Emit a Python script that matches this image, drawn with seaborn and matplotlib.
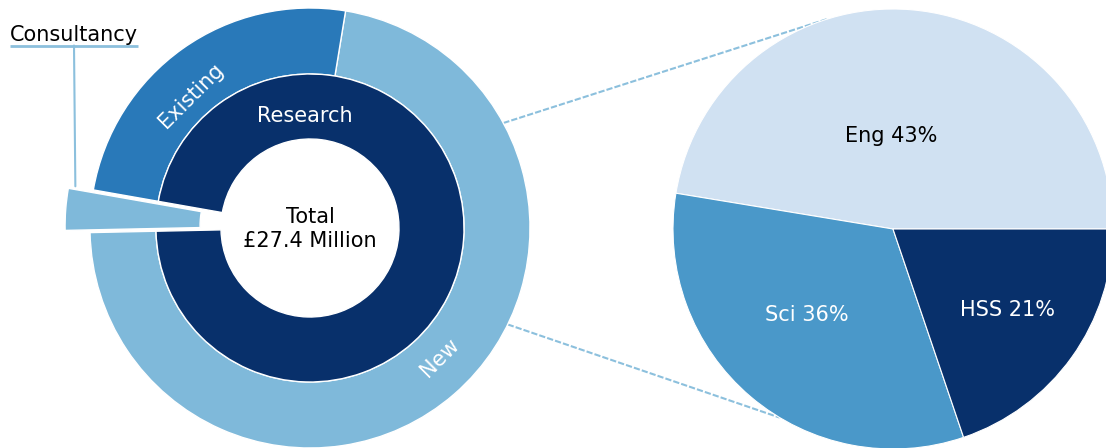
import numpy as np
import matplotlib
matplotlib.use("Agg")
import matplotlib.pyplot as plt
import seaborn as sns

# ---------------- data ----------------
main_labels = ["New", "Existing", "Consultancy"]
main_values = [19.75, 6.8, 0.85]        # £ million
inner_label = "Research"
total_label = "Total\n£27.4 Million"
sub_labels = ["Eng 43%", "Sci 36%", "HSS 21%"]
sub_values = [47.4, 32.8, 19.8]         # drawn shares of research

# ---------------- style ----------------
sns.set_theme(style="white")
plt.rcParams['font.family'] = ['DejaVu Sans']
blues = sns.color_palette("Blues", as_cmap=True)
c_new, c_exist, c_navy = blues(0.45), blues(0.72), blues(1.0)
c_line = blues(0.42)
sub_colors = [blues(0.2), blues(0.6), blues(1.0)]
sub_text_colors = ["black", "white", "white"]
FS = 15

fig = plt.figure(figsize=(11.06, 4.48), dpi=100)
ax = fig.add_axes([0, 0, 1, 1])

R, ring, hole = 220, 66, 89
cL, cR = (310, 220), (893, 219)
start = 181.2
research = main_values[0] + main_values[1]
consult = main_values[2]
wp = dict(edgecolor="white", linewidth=1)

# outer ring: New / Existing
outer, _ = ax.pie(main_values, radius=R, center=cL, startangle=start,
                  colors=[c_new, c_exist, c_new],
                  wedgeprops=dict(width=ring, **wp), frame=True)
outer[2].set_visible(False)
# inner ring: Research
inner, _ = ax.pie([research, consult], radius=R - ring, center=cL, startangle=start,
                  colors=[c_navy, c_navy],
                  wedgeprops=dict(width=R - ring - hole, **wp), frame=True)
inner[1].set_visible(False)
# exploded consultancy wedge spanning both rings
cons, _ = ax.pie([research, consult], radius=217, center=cL, startangle=start,
                 explode=[0, 28], colors=[c_navy, c_new],
                 wedgeprops=dict(width=217 - 82, **wp), frame=True)
cons[0].set_visible(False)

# right pie
sub, _ = ax.pie(sub_values, radius=R, center=cR, startangle=0, colors=sub_colors,
                wedgeprops=dict(edgecolor="white", linewidth=0.8), frame=True)

# ---------------- labels ----------------
def polar(c, ang, r):
    a = np.deg2rad(ang)
    return c[0] + r * np.cos(a), c[1] + r * np.sin(a)

x, y = polar(cL, 132, 178)
ax.text(x, y, main_labels[1], color="white", fontsize=FS, rotation=45,
        ha="center", va="center", rotation_mode="anchor")
x, y = polar(cL, -45, 184)
ax.text(x, y, main_labels[0], color="white", fontsize=FS, rotation=45,
        ha="center", va="center", rotation_mode="anchor")
ax.text(cL[0] - 5, cL[1] + 112, inner_label, color="white", fontsize=FS,
        ha="center", va="center")
ax.text(cL[0], cL[1] - 1, total_label, color="black", fontsize=FS,
        ha="center", va="center", linespacing=1.25)

# sub-pie labels
sub_pos = [(91.2, 93), (225, 121.6), (-35.2, 140.7)]
for lab, (ang, r), col in zip(sub_labels, sub_pos, sub_text_colors):
    x, y = polar(cR, ang, r)
    ax.text(x, y, lab, color=col, fontsize=FS, ha="center", va="center")

# consultancy annotation
w = cons[1]
px, py = polar(w.center, w.theta1, w.r)
ax.text(74, 407.5, main_labels[2], color="black", fontsize=FS, ha="center", va="baseline")
ax.plot([10, 138], [402.5, 402.5], color=c_line, lw=2, solid_capstyle="butt")
ax.plot([74, px + 7], [402.5, py + 2], color=c_line, lw=1.5)

# connection lines
for aL, aR in [(28.5, 107.5), (-26, 239)]:
    x1, y1 = polar(cL, aL, R)
    x2, y2 = polar(cR, aR, R)
    ax.plot([x1, x2], [y1, y2], color=c_line, lw=1.5, ls=(0, (3, 1)), zorder=0)

ax.set_xlim(0, 1106)
ax.set_ylim(0, 448)
ax.set_aspect("equal")
ax.axis("off")
fig.savefig("out.png", dpi=100)
